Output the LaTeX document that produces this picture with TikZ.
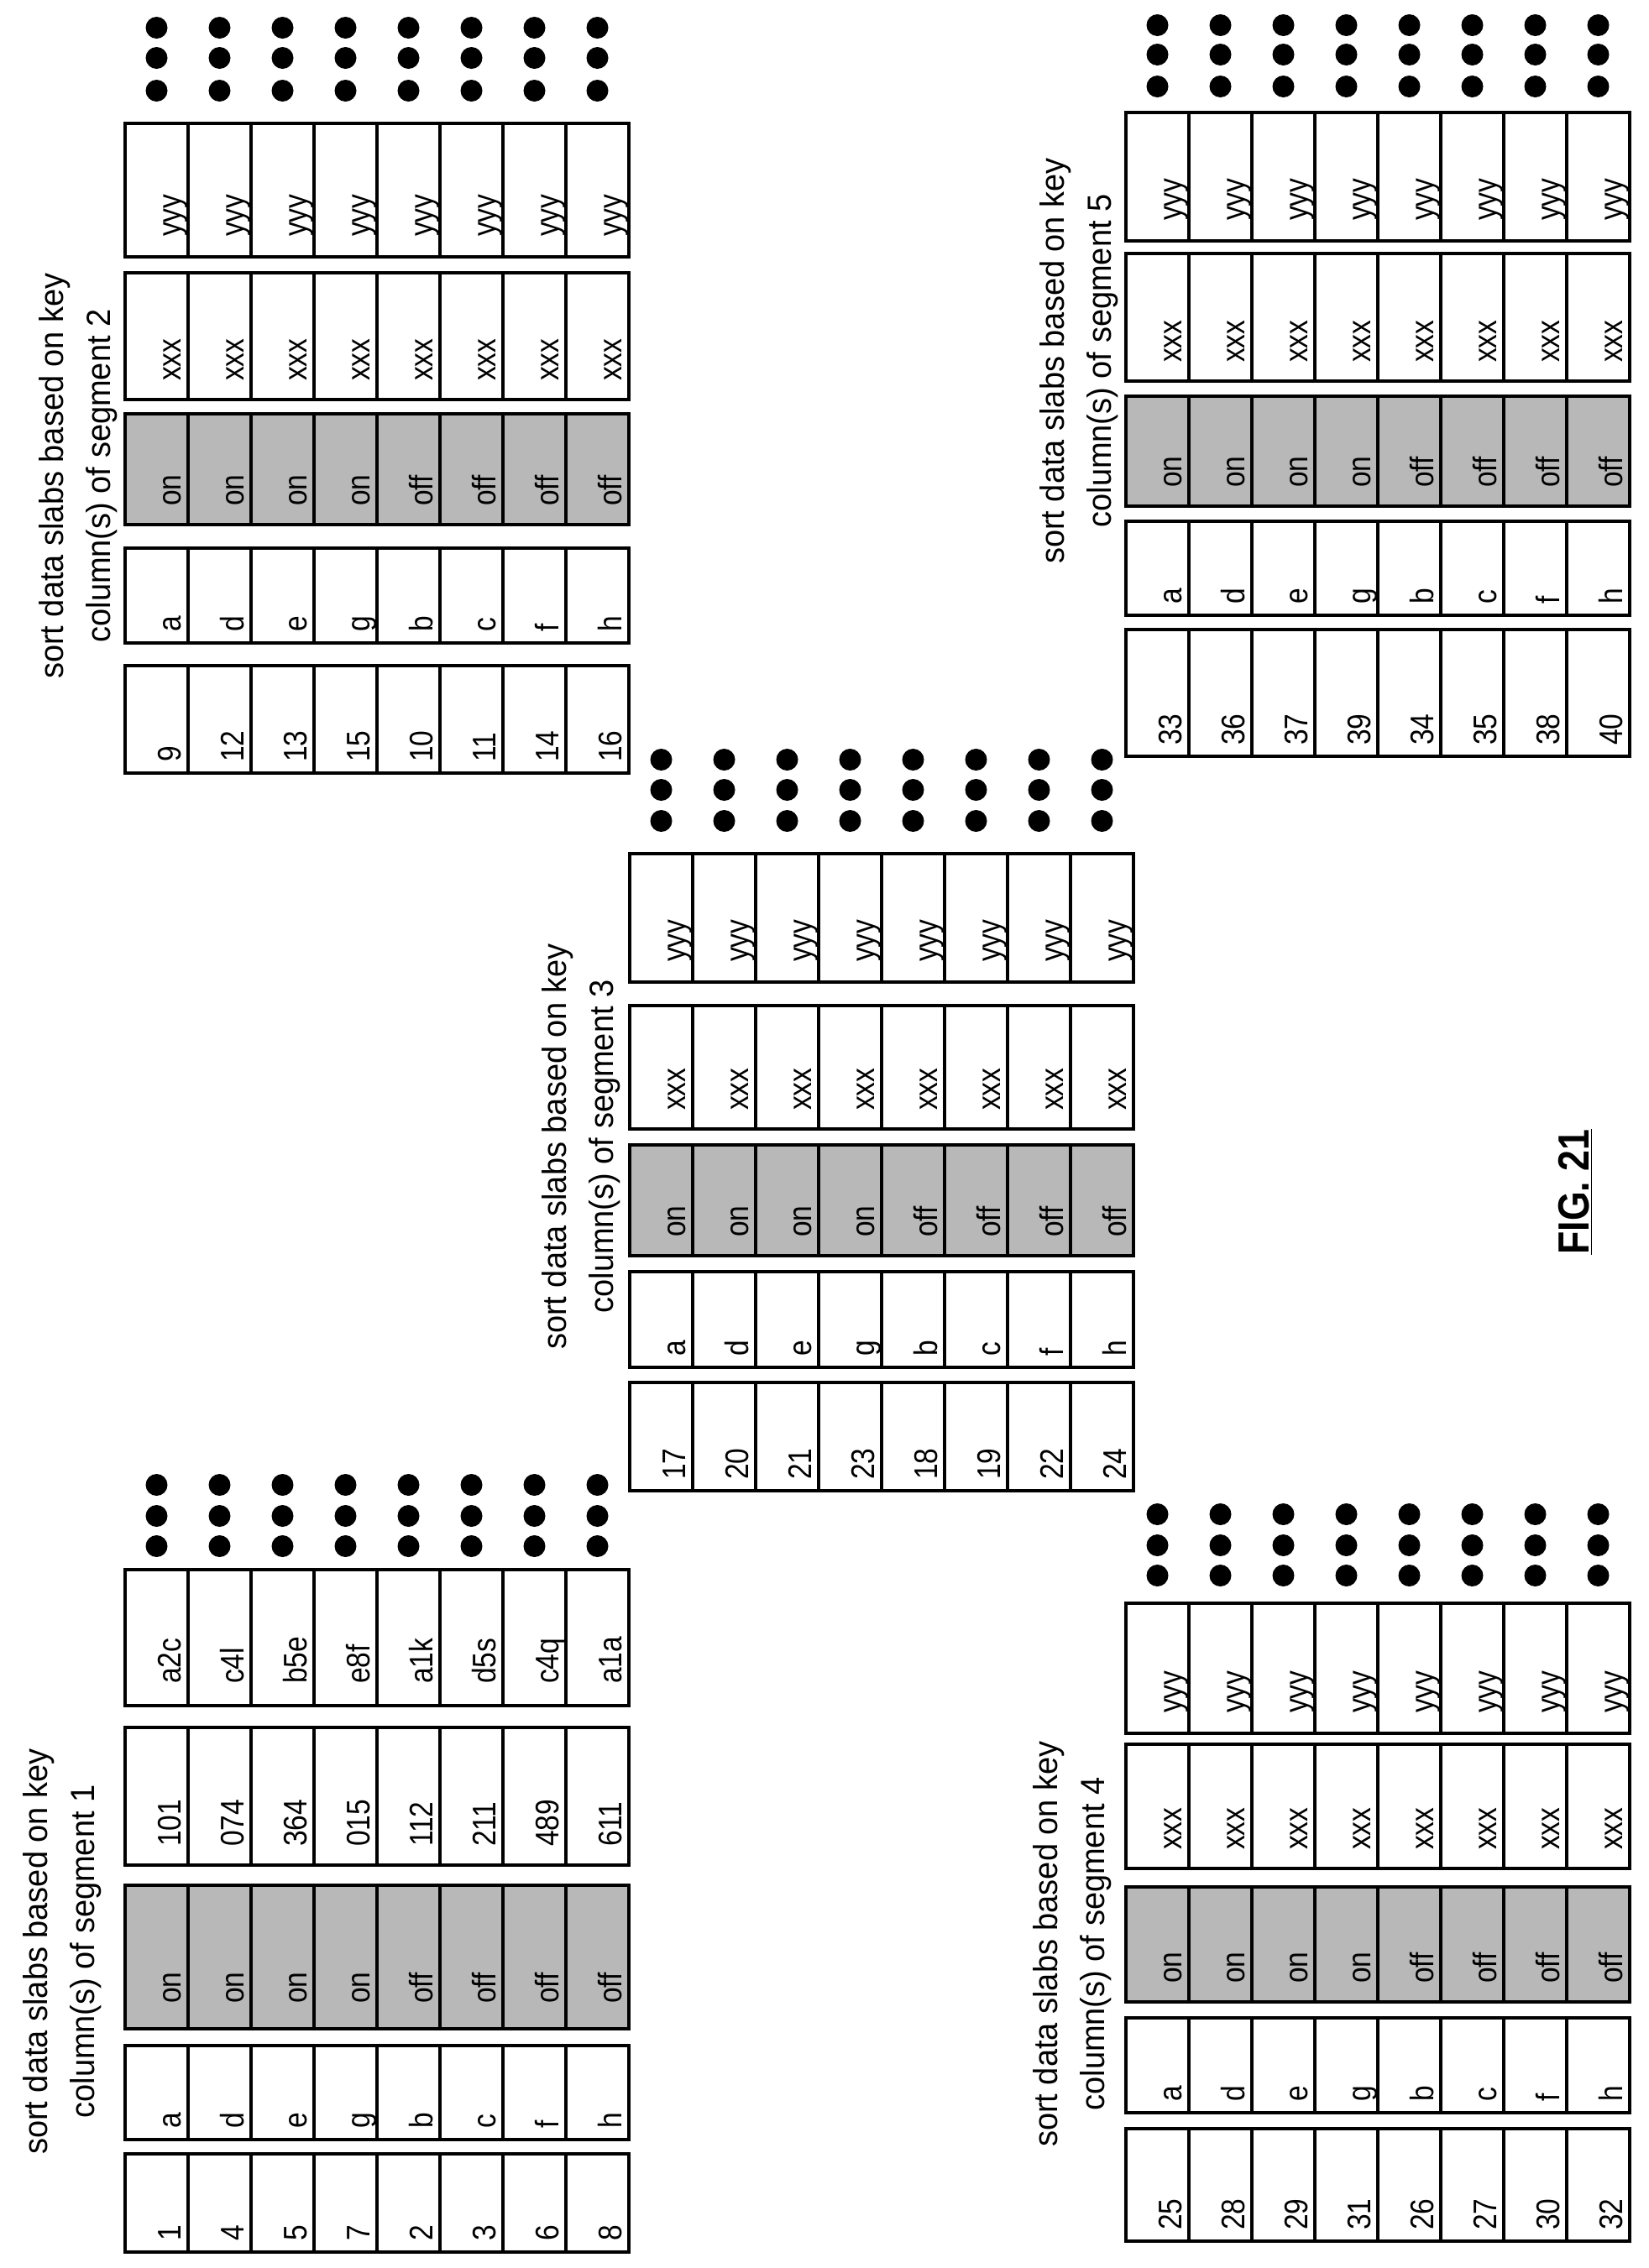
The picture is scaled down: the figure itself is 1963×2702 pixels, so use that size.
\documentclass[tikz,border=0pt]{standalone}
\usepackage{fontspec}
\setmainfont{Liberation Sans}
\newfontfamily\cellf[FakeStretch=0.86]{Liberation Sans}
\newfontfamily\labf[FakeStretch=0.95]{Liberation Sans}
\newcommand\slabcol[6]{% X0, ytop, ybot, style, list, offset
  \foreach \t [count=\i from 0] in {#5} {
    \draw[#4] ({#1+75*\i},#2) rectangle ({#1+75*(\i+1)},#3);
    \node[celltxt] at ({#1+75*(\i+1)-9},{#3-#6}) {\t};
  }}
\newcommand\slabdots[4]{% X0, y1,y2,y3
  \foreach \i in {0,...,7} {
    \foreach \yy in {#2,#3,#4} \fill ({#1+75*\i+37.5},\yy) circle (13pt);
  }}
\begin{document}
\begin{tikzpicture}[x=1pt,y=-1pt,
  box/.style={line width=3.5pt,draw=black},
  shade/.style={box,fill=black!28},
  celltxt/.style={rotate=90,anchor=base west,inner sep=0pt,font=\cellf\fontsize{39}{44}\selectfont},
  lab/.style={rotate=90,align=center,inner sep=0pt,font=\labf\fontsize{40}{56}\selectfont}]
\useasboundingbox (0,0) rectangle (1963,2702);
\def\ids{}
% Table 1
\slabcol{149}{2566}{2683}{box}{1,4,5,7,2,3,6,8}{13}
\slabcol{149}{2437}{2549}{box}{a,d,e,g,b,c,f,h}{13}
\slabcol{149}{2246}{2417}{shade}{on,on,on,on,off,off,off,off}{30}
\slabcol{149}{2058}{2222}{box}{101,074,364,015,112,211,489,611}{22}
\slabcol{149}{1870}{2032}{box}{a2c,c4l,b5e,e8f,a1k,d5s,c4q,a1a}{26}
\slabdots{149}{1769}{1806}{1842}
\node[lab] (l1) at (74,2325) {sort data slabs based on key\\column(s) of segment 1};
% Table 2
\slabcol{149}{793}{921}{box}{9,12,13,15,10,11,14,16}{13}
\slabcol{149}{653}{766}{box}{a,d,e,g,b,c,f,h}{13}
\slabcol{149}{493}{625}{shade}{on,on,on,on,off,off,off,off}{22}
\slabcol{149}{325}{476}{box}{xxx,xxx,xxx,xxx,xxx,xxx,xxx,xxx}{22}
\slabcol{149}{147}{306}{box}{yyy,yyy,yyy,yyy,yyy,yyy,yyy,yyy}{24}
\slabdots{149}{33}{69}{108}
\node[lab] (l2) at (93,567) {sort data slabs based on key\\column(s) of segment 2};
% Table 3
\slabcol{750}{1647}{1776}{box}{17,20,21,23,18,19,22,24}{13}
\slabcol{750}{1515}{1629}{box}{a,d,e,g,b,c,f,h}{13}
\slabcol{750}{1364}{1496}{shade}{on,on,on,on,off,off,off,off}{22}
\slabcol{750}{1198}{1345}{box}{xxx,xxx,xxx,xxx,xxx,xxx,xxx,xxx}{22}
\slabcol{750}{1017}{1170}{box}{yyy,yyy,yyy,yyy,yyy,yyy,yyy,yyy}{24}
\slabdots{750}{905}{941}{978}
\node[lab] (l3) at (692,1366) {sort data slabs based on key\\column(s) of segment 3};
% Table 4
\slabcol{1341}{2536}{2670}{box}{25,28,29,31,26,27,30,32}{13}
\slabcol{1341}{2404}{2517}{box}{a,d,e,g,b,c,f,h}{13}
\slabcol{1341}{2248}{2385}{shade}{on,on,on,on,off,off,off,off}{22}
\slabcol{1341}{2078}{2226}{box}{xxx,xxx,xxx,xxx,xxx,xxx,xxx,xxx}{22}
\slabcol{1341}{1910}{2065}{box}{yyy,yyy,yyy,yyy,yyy,yyy,yyy,yyy}{24}
\slabdots{1341}{1804}{1841}{1877}
\node[lab] (l4) at (1277,2316) {sort data slabs based on key\\column(s) of segment 4};
% Table 5
\slabcol{1341}{750}{901}{box}{33,36,37,39,34,35,38,40}{13}
\slabcol{1341}{621}{733}{box}{a,d,e,g,b,c,f,h}{13}
\slabcol{1341}{472}{603}{shade}{on,on,on,on,off,off,off,off}{22}
\slabcol{1341}{302}{454}{box}{xxx,xxx,xxx,xxx,xxx,xxx,xxx,xxx}{22}
\slabcol{1341}{134}{287}{box}{yyy,yyy,yyy,yyy,yyy,yyy,yyy,yyy}{24}
\slabdots{1341}{30}{65}{103}
\node[lab] (l5) at (1285,430) {sort data slabs based on key\\column(s) of segment 5};
% Figure label
\node[rotate=90,inner sep=0pt,font=\cellf\bfseries\fontsize{52}{60}\selectfont] (fig) at (1876,1420) {\underline{FIG. 21}};
\end{tikzpicture}
\end{document}
